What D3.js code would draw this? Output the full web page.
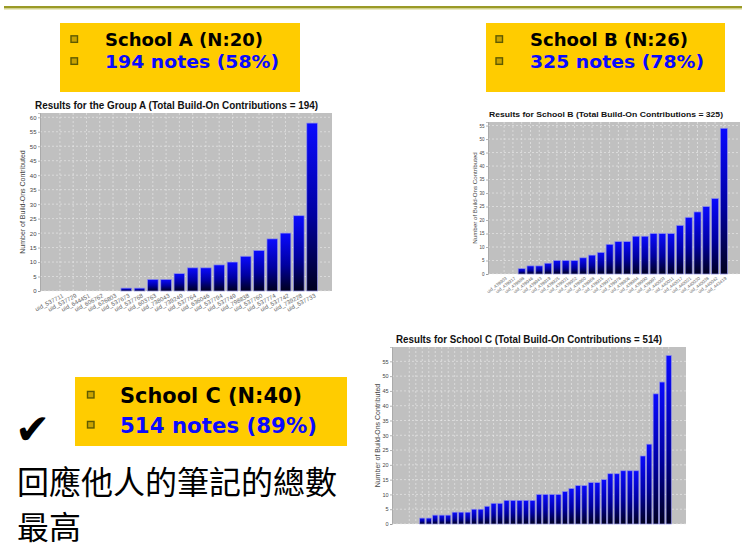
<!DOCTYPE html>
<html>
<head>
<meta charset="utf-8">
<script src="https://cdn.jsdelivr.net/npm/d3@7"></script>
<style>
  html, body { margin: 0; padding: 0; background: #ffffff; }
  svg { display: block; }
</style>
</head>
<body>
<svg id="slide" width="742" height="547"></svg>
<script>
// ---------- data ----------
const summaryHeadings = ["School A (N:20)", "School B (N:26)", "School C (N:40)"];
const summaryNotes = ["194 notes (58%)", "325 notes (78%)", "514 notes (89%)"];
const conclusionLines = ["回應他人的筆記的總數", "最高"];

const chartTitles = [
  "Results for the Group A  (Total Build-On Contributions = 194)",
  "Results for School B  (Total Build-On Contributions = 325)",
  "Results for School C (Total Build-On Contributions = 514)"
];
const yAxisTitle = "Number of Build-Ons Contributed";

const groupAUsers = [
  "uid_537711", "uid_537729", "uid_644451", "uid_606762", "uid_626803",
  "uid_537673", "uid_537768", "uid_603763", "uid_738043", "uid_739249",
  "uid_537764", "uid_636046", "uid_537794", "uid_537749", "uid_798838",
  "uid_537760", "uid_537774", "uid_537742", "uid_739228", "uid_537733"
];
const groupACounts = [0, 0, 0, 0, 0, 1, 1, 4, 4, 6, 8, 8, 9, 10, 12, 14, 18, 20, 26, 58];
const groupATicks = [0, 5, 10, 15, 20, 25, 30, 35, 40, 45, 50, 55, 60];

const schoolBUsers = [
  "uid_439903", "uid_439917", "uid_439888", "uid_439946", "uid_439943",
  "uid_439919", "uid_439925", "uid_439931", "uid_439952", "uid_439960",
  "uid_439968", "uid_439915", "uid_439971", "uid_439978", "uid_439906",
  "uid_439984", "uid_439990", "uid_439997", "uid_440003", "uid_440011",
  "uid_440017", "uid_440021", "uid_440030", "uid_440038", "uid_440042",
  "uid_443419"
];
const schoolBCounts = [0, 0, 2, 3, 3, 4, 5, 5, 5, 6, 7, 8, 11, 12, 12, 14, 14, 15, 15, 15, 18, 21, 23, 25, 28, 54];
const schoolBTicks = [0, 5, 10, 15, 20, 25, 30, 35, 40, 45, 50, 55];

const schoolCCounts = [
  0, 0, 2, 2, 3, 3, 3, 4, 4, 4, 5, 5, 6, 7, 7, 8, 8, 8, 8, 8,
  10, 10, 10, 10, 11, 12, 13, 13, 14, 14, 15, 17, 17, 18, 18, 18,
  23, 27, 44, 48, 57
];
const schoolCTicks = [0, 5, 10, 15, 20, 25, 30, 35, 40, 45, 50, 55];

// ---------- drawing ----------
const svg = d3.select("#slide");
const defs = svg.append("defs");

// vertical gradient used by every bar (bright blue at the top, navy at the base)
const grad = defs.append("linearGradient")
  .attr("id", "barFill")
  .attr("x1", 0).attr("y1", 0).attr("x2", 0).attr("y2", 1);
grad.append("stop").attr("offset", "0%").attr("stop-color", "#0a0aff");
grad.append("stop").attr("offset", "55%").attr("stop-color", "#0000a0");
grad.append("stop").attr("offset", "100%").attr("stop-color", "#00001e");

// header rule
svg.append("rect").attr("x", 4).attr("y", 6).attr("width", 738).attr("height", 2.5).attr("fill", "#9a9a26");
svg.append("rect").attr("x", 4).attr("y", 8.5).attr("width", 738).attr("height", 1).attr("fill", "#d6d68a");

const boldFont = "'DejaVu Sans', Verdana, sans-serif";

function drawSummary(box, heading, notes) {
  const g = svg.append("g");
  g.append("rect")
    .attr("x", box.x).attr("y", box.y)
    .attr("width", box.w).attr("height", box.h)
    .attr("fill", "#ffcc00");
  [[heading, box.base1, "#000000", box.len1], [notes, box.base2, "#0a0aff", box.len2]].forEach(([txt, base, col, len]) => {
    g.append("rect")
      .attr("x", box.bx).attr("y", base - box.size * 0.55)
      .attr("width", 6.5).attr("height", 6.5)
      .attr("fill", "#c9a200")
      .attr("stroke", "#5e5a00").attr("stroke-width", 1.4);
    g.append("text")
      .attr("x", box.tx).attr("y", base)
      .attr("font-family", boldFont)
      .attr("font-weight", "bold")
      .attr("font-size", box.size)
      .attr("textLength", len)
      .attr("lengthAdjust", "spacingAndGlyphs")
      .attr("fill", col)
      .text(txt);
  });
}

drawSummary({x: 60, y: 23, w: 240, h: 69, bx: 71, tx: 105, base1: 46, base2: 68, size: 18.5, len1: 158, len2: 174},
  summaryHeadings[0], summaryNotes[0]);
drawSummary({x: 486, y: 23, w: 239, h: 69, bx: 496, tx: 530, base1: 46, base2: 68, size: 18.5, len1: 158, len2: 174},
  summaryHeadings[1], summaryNotes[1]);
drawSummary({x: 75, y: 377, w: 272, h: 69, bx: 87.5, tx: 120, base1: 403, base2: 433, size: 21, len1: 182, len2: 197},
  summaryHeadings[2], summaryNotes[2]);

// check mark and conclusion text
svg.append("text")
  .attr("x", 15).attr("y", 444)
  .attr("font-family", "'DejaVu Sans', sans-serif")
  .attr("font-size", 42)
  .attr("fill", "#000")
  .text("✔");

conclusionLines.forEach((line, i) => {
  svg.append("text")
    .attr("x", 17).attr("y", 494 + i * 45)
    .attr("font-family", "'Noto Sans CJK TC', 'Noto Sans CJK SC', sans-serif")
    .attr("font-size", 32)
    .attr("fill", "#000")
    .text(line);
});

// ---------- bar charts ----------
function drawBarChart(cfg) {
  const g = svg.append("g");
  const n = cfg.values.length;
  const idx = d3.range(n);
  const inner = 0.2;
  const outer = 0.05 * (n - inner) / 0.9;   // 5% of the axis kept free at each end

  const x = d3.scaleBand()
    .domain(idx)
    .range([cfg.x0, cfg.x1])
    .paddingInner(inner)
    .paddingOuter(outer);

  const y = d3.scaleLinear()
    .domain([0, d3.max(cfg.values) * cfg.headroom])
    .range([cfg.y1, cfg.y0]);

  // plot background
  g.append("rect")
    .attr("x", cfg.x0).attr("y", cfg.y0)
    .attr("width", cfg.x1 - cfg.x0).attr("height", cfg.y1 - cfg.y0)
    .attr("fill", "#c0c0c0");

  // grid lines
  g.append("g").selectAll("line").data(cfg.ticks).join("line")
    .attr("x1", cfg.x0).attr("x2", cfg.x1)
    .attr("y1", d => y(d)).attr("y2", d => y(d))
    .attr("stroke", "#ececec").attr("stroke-width", 0.6)
    .attr("stroke-dasharray", "2,2");
  g.append("g").selectAll("line").data(idx).join("line")
    .attr("x1", d => x(d) + x.bandwidth() / 2).attr("x2", d => x(d) + x.bandwidth() / 2)
    .attr("y1", cfg.y0).attr("y2", cfg.y1)
    .attr("stroke", "#ececec").attr("stroke-width", 0.6)
    .attr("stroke-dasharray", "2,2");

  // bars
  g.append("g").selectAll("rect").data(cfg.values.map((v, i) => ({v, i})).filter(d => d.v > 0)).join("rect")
    .attr("x", d => x(d.i))
    .attr("width", x.bandwidth())
    .attr("y", d => y(d.v))
    .attr("height", d => y(0) - y(d.v))
    .attr("fill", "url(#barFill)")
    .attr("stroke", "#8f8fe8")
    .attr("stroke-width", 0.7);

  // value axis
  const yAxis = d3.axisLeft(y).tickValues(cfg.ticks).tickSize(2).tickPadding(1.5);
  const ya = g.append("g").attr("transform", `translate(${cfg.x0},0)`).call(yAxis);
  ya.select(".domain").attr("stroke", "#9a9a9a").attr("stroke-width", 0.6);
  ya.selectAll(".tick line").attr("stroke", "#808080").attr("stroke-width", 0.6);
  ya.selectAll(".tick text")
    .attr("font-family", "'Liberation Sans', Arial, sans-serif")
    .attr("font-size", cfg.tickSize)
    .attr("fill", "#444");

  // value axis title
  g.append("text")
    .attr("transform", `translate(${cfg.yTitleX},${(cfg.y0 + cfg.y1) / 2}) rotate(-90)`)
    .attr("text-anchor", "middle")
    .attr("font-family", "'Liberation Sans', Arial, sans-serif")
    .attr("font-size", cfg.yTitleSize)
    .attr("fill", "#444")
    .text(yAxisTitle);

  // chart title
  g.append("text")
    .attr("x", cfg.titleX).attr("y", cfg.titleY)
    .attr("font-family", "'Liberation Sans', Arial, sans-serif")
    .attr("font-weight", "bold")
    .attr("font-size", cfg.titleSize)
    .attr("textLength", cfg.titleLen)
    .attr("lengthAdjust", "spacingAndGlyphs")
    .attr("fill", "#111")
    .text(cfg.title);

  // category labels
  if (cfg.labels) {
    g.append("g").selectAll("text").data(idx).join("text")
      .attr("transform", d => `translate(${x(d) + x.bandwidth() / 2 + cfg.labelDx},${cfg.y1 + cfg.labelDy}) rotate(${cfg.labelAngle})`)
      .attr("text-anchor", "end")
      .attr("font-family", "'Liberation Sans', Arial, sans-serif")
      .attr("font-size", cfg.labelSize)
      .attr("fill", "#666")
      .text(d => cfg.labels[d]);
  }
}

drawBarChart({
  values: groupACounts, labels: groupAUsers, ticks: groupATicks, title: chartTitles[0],
  x0: 40, x1: 332, y0: 113, y1: 291, headroom: 1.06,
  titleX: 35, titleY: 108.5, titleSize: 11, titleLen: 283,
  yTitleX: 25, yTitleSize: 7, tickSize: 6,
  labelSize: 6, labelAngle: -28, labelDx: 4, labelDy: 6
});

drawBarChart({
  values: schoolBCounts, labels: schoolBUsers, ticks: schoolBTicks, title: chartTitles[1],
  x0: 488, x1: 740, y0: 122, y1: 274, headroom: 1.043,
  titleX: 489, titleY: 116.5, titleSize: 7.8, titleLen: 234,
  yTitleX: 477, yTitleSize: 6.2, tickSize: 4.5,
  labelSize: 4.5, labelAngle: -38, labelDx: 3, labelDy: 5
});

drawBarChart({
  values: schoolCCounts, labels: null, ticks: schoolCTicks, title: chartTitles[2],
  x0: 392, x1: 686, y0: 347, y1: 524, headroom: 1.05,
  titleX: 396, titleY: 342.5, titleSize: 10.5, titleLen: 266,
  yTitleX: 380, yTitleSize: 7, tickSize: 5.5
});
</script>
</body>
</html>
